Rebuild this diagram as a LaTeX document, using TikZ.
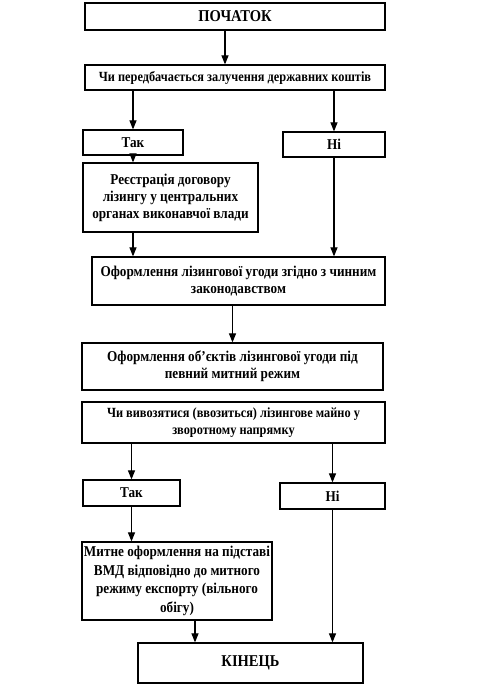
\documentclass[tikz,border=0pt]{standalone}
\usepackage{fontspec}
\setmainfont{Liberation Serif}[FakeStretch=0.88]
\usetikzlibrary{arrows.meta}
\begin{document}
\begin{tikzpicture}[x=1pt,y=1pt,
  box/.style={draw,line width=1.2pt,inner sep=2pt,align=center,font=\bfseries\fontsize{15}{17}\selectfont},
  qbox/.style={box,font=\bfseries\fontsize{14}{16.7}\selectfont},
  tbox/.style={box,font=\bfseries\fontsize{16.5}{18}\selectfont},
  arr/.style={line width=1.1pt,-{Triangle[length=9pt,width=7pt]}}]
\useasboundingbox[fill=white] (0,0) rectangle (486,-689);
\node[tbox,minimum width=300,minimum height=27] (start) at (235,-16.5) {ПОЧАТОК};
\node[qbox,minimum width=300,minimum height=25] (q1) at (235,-77.5) {Чи передбачається залучення державних коштів};
\node[box,minimum width=100,minimum height=25] (yes1) at (133,-142.5) {Так};
\node[box,minimum width=102,minimum height=25] (no1) at (334,-144.5) {Ні};
\node[box,minimum width=175,minimum height=69] (reg) at (170.5,-197.5) {Реєстрація договору\\лізингу у центральних\\органах виконавчої влади};
\node[box,minimum width=293,minimum height=48] (form) at (238.5,-281) {Оформлення лізингової угоди згідно з чинним\\законодавством};
\node[box,minimum width=301,minimum height=47] (obj) at (232.5,-366.5) {Оформлення об'єктів лізингової угоди під\\певний митний режим};
\node[qbox,minimum width=303,minimum height=41] (q2) at (233.5,-422.5) {Чи вивозятися (ввозиться) лізингове майно у\\зворотному напрямку};
\node[box,minimum width=97,minimum height=26] (yes2) at (131.5,-493) {Так};
\node[box,minimum width=105,minimum height=26] (no2) at (332.5,-496) {Ні};
\node[box,minimum width=190,minimum height=78,font=\bfseries\fontsize{15}{18.5}\selectfont] (cust) at (177,-581) {Митне оформлення на підставі\\ВМД відповідно до митного\\режиму експорту (вільного\\обігу)};
\node[tbox,minimum width=225,minimum height=40] (end) at (250.5,-663) {КІНЕЦЬ};
\draw[arr] ([xshift=-10pt]start.south) -- ([xshift=-10pt]start.south |- q1.north);
\draw[arr] (q1.south -| yes1) -- (yes1.north);
\draw[arr] (q1.south -| no1) -- (no1.north);
\draw[arr] (yes1.south) -- (yes1.south |- reg.north);
\draw[arr] (reg.south -| yes1) -- (form.north -| yes1);
\draw[arr] (no1.south) -- (no1.south |- form.north);
\draw[arr] (form.south -| obj) -- (obj.north);
\draw[arr] (q2.south -| yes2) -- (yes2.north);
\draw[arr] (q2.south -| no2) -- (no2.north);
\draw[arr] (yes2.south) -- (yes2.south |- cust.north);
\draw[arr] ([xshift=18pt]cust.south) -- ([xshift=18pt]cust.south |- end.north);
\draw[arr] (no2.south) -- (no2.south |- end.north);
\end{tikzpicture}
\end{document}
